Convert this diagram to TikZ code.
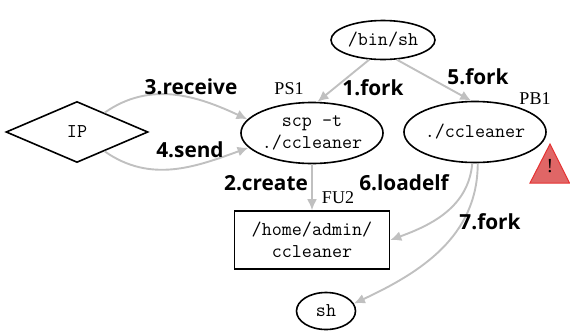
\documentclass[tikz,border=0pt]{standalone}
\usepackage{fontspec}
\setmainfont{Liberation Serif}
\setmonofont{Latin Modern Mono}
\newfontfamily\lblfont{Open Sans}[BoldFont={Open Sans Bold}]
\usetikzlibrary{shapes.geometric,arrows.meta}
\definecolor{edgegray}{RGB}{192,192,192}
\definecolor{warnfill}{RGB}{224,102,102}
\definecolor{warnline}{RGB}{230,50,50}
\tikzset{
  proc/.style={ellipse,draw=black,line width=1.6pt,inner sep=0pt,font=\ttfamily\fontsize{19.5}{22}\selectfont,align=center},
  filebox/.style={rectangle,draw=black,line width=1.6pt,inner sep=0pt,font=\ttfamily\fontsize{19.5}{22}\selectfont,align=center},
  ipnode/.style={diamond,draw=black,line width=1.6pt,inner sep=0pt,font=\ttfamily\fontsize{19.5}{22}\selectfont},
  flow/.style={draw=edgegray,line width=1.9pt,-{Latex[length=11pt,width=10pt]}},
  steplabel/.style={font=\lblfont\bfseries\fontsize{20.8}{24}\selectfont,inner sep=0pt},
  taglabel/.style={font=\fontsize{18}{20}\selectfont,inner sep=0pt},
}
\begin{document}
\begin{tikzpicture}[x=1pt,y=-1pt]
\useasboundingbox (0,0) rectangle (570,333);
\node[proc,minimum width=104pt,minimum height=39pt] (binsh) at (383,40) {/bin/sh};
\node[proc,minimum width=140pt,minimum height=61pt] (ps1) at (312,133) {scp -t\\./ccleaner};
\node[proc,minimum width=142pt,minimum height=61pt] (pb1) at (475,132) {./ccleaner};
\node[ipnode,minimum width=142pt,minimum height=61pt] (ip) at (77,132) {IP};
\node[filebox,minimum width=155pt,minimum height=58pt] (fu2) at (312,240) {/home/admin/\\ccleaner};
\node[proc,minimum width=59pt,minimum height=37pt] (sh) at (326,311) {sh};
\node[taglabel] (tps1) at (289,89) {PS1};
\node[taglabel] (tpb1) at (535,99) {PB1};
\node[taglabel] (tfu2) at (338,198) {FU2};
\fill[warnfill,draw=warnline,line width=1pt,line join=miter] (550,144) -- (569.5,183) -- (530,183) -- cycle;
\node[font=\fontsize{20}{22}\selectfont,inner sep=0pt] (warntxt) at (550,166) {!};
% edges
\draw[flow] (binsh.-125) -- (ps1.80);
\draw[flow] (binsh.-55) -- (pb1.97);
\draw[flow] (ip.35) to[out=35,in=155] (ps1.168);
\draw[flow] (ip.-35) to[out=-35,in=200] (ps1.193);
\draw[flow] (ps1.-90) -- (fu2.north);
\draw[flow] (pb1.-95) to[out=-95,in=20] (fu2.east);
\draw[flow] (pb1.-85) to[out=-90,in=25] (sh.15);
% labels
\node[steplabel] (l1) at (373,88) {1.fork};
\node[steplabel] (l5) at (478,77) {5.fork};
\node[steplabel] (l3) at (191,87) {3.receive};
\node[steplabel] (l4) at (190,150) {4.send};
\node[steplabel] (l2) at (266,183) {2.create};
\node[steplabel] (l6) at (404,183) {6.loadelf};
\node[steplabel] (l7) at (490,222) {7.fork};
\end{tikzpicture}
\end{document}
